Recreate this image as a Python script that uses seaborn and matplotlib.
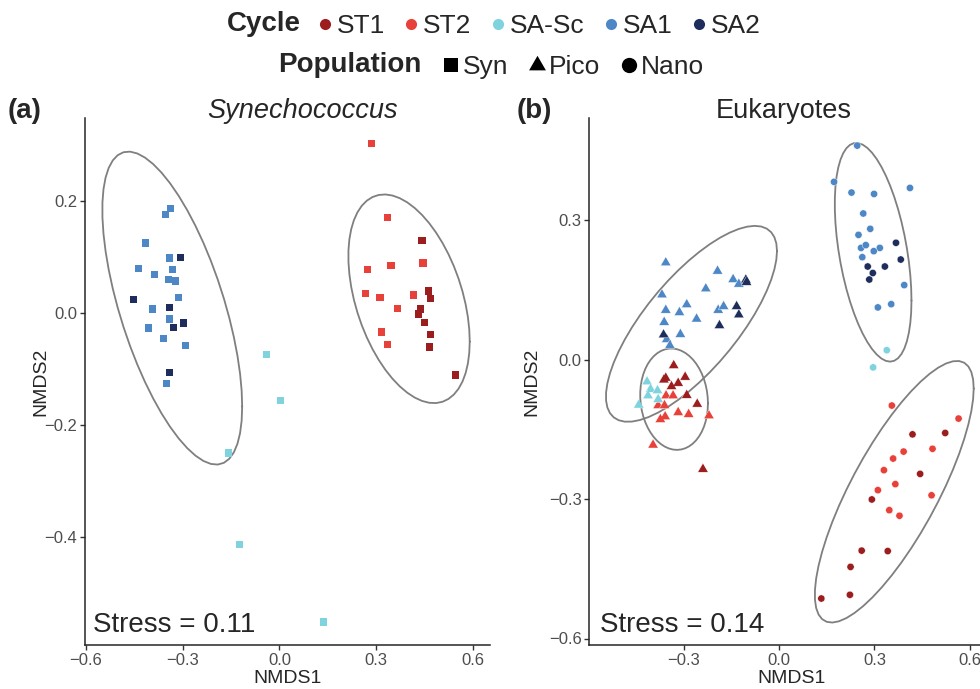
import numpy as np
import pandas as pd
import matplotlib
matplotlib.use("Agg")
import matplotlib.pyplot as plt
import seaborn as sns
from matplotlib.lines import Line2D

# ---------------- data ----------------
cycles = ["ST1", "ST2", "SA-Sc", "SA1", "SA2"]
cycle_colors = ["#9B1D1D", "#E8413A", "#7ED3DE", "#4E87C6", "#1E2D5B"]
cycle_region = {"ST1": "ST", "ST2": "ST", "SA-Sc": "SA", "SA1": "SA", "SA2": "SA"}
populations = ["Syn", "Pico", "Nano"]

# Synechococcus (panel a)
syn_cycle = (["SA1"] * 16 + ["SA2"] * 6 + ["SA-Sc"] * 5 + ["ST2"] * 11 + ["ST1"] * 9)
syn_x = [-0.337, -0.352, -0.414, -0.340, -0.436, -0.330, -0.386, -0.343, -0.321, -0.312,
         -0.392, -0.340, -0.405, -0.358, -0.290, -0.349,
         -0.306, -0.451, -0.340, -0.296, -0.327, -0.340,
         -0.039, 0.004, -0.157, -0.123, 0.137,
         0.286, 0.335, 0.273, 0.345, 0.444, 0.267, 0.311, 0.416, 0.366, 0.316, 0.335,
         0.441, 0.462, 0.468, 0.437, 0.431, 0.450, 0.468, 0.465, 0.546]
syn_y = [0.187, 0.176, 0.125, 0.098, 0.080, 0.078, 0.069, 0.060, 0.057, 0.028,
         0.007, -0.011, -0.027, -0.045, -0.058, -0.126,
         0.099, 0.024, 0.010, -0.018, -0.026, -0.106,
         -0.074, -0.156, -0.250, -0.413, -0.552,
         0.303, 0.171, 0.078, 0.085, 0.089, 0.035, 0.028, 0.032, 0.008, -0.034, -0.056,
         0.130, 0.039, 0.026, 0.007, -0.002, -0.017, -0.038, -0.061, -0.111]

# Eukaryotes, picoplankton (panel b, triangles)
pico_cycle = (["SA1"] * 16 + ["SA2"] * 6 + ["ST1"] * 9 + ["ST2"] * 10 + ["SA-Sc"] * 6)
pico_x = [-0.357, -0.194, -0.145, -0.127, -0.231, -0.369, -0.291, -0.357, -0.314, -0.192,
          -0.175, -0.260, -0.362, -0.311, -0.354, -0.344,
          -0.105, -0.103, -0.134, -0.127, -0.188, -0.364,
          -0.332, -0.357, -0.363, -0.296, -0.318, -0.339, -0.291, -0.258, -0.240,
          -0.356, -0.334, -0.381, -0.361, -0.318, -0.285, -0.221, -0.359, -0.374, -0.397,
          -0.416, -0.405, -0.383, -0.413, -0.381, -0.442]
pico_y = [0.208, 0.190, 0.172, 0.162, 0.152, 0.139, 0.118, 0.106, 0.101, 0.106,
          0.114, 0.087, 0.080, 0.054, 0.043, 0.030,
          0.171, 0.166, 0.114, 0.096, 0.073, 0.053,
          -0.013, -0.040, -0.044, -0.038, -0.051, -0.058, -0.077, -0.096, -0.236,
          -0.078, -0.078, -0.099, -0.099, -0.114, -0.118, -0.121, -0.123, -0.129, -0.184,
          -0.048, -0.064, -0.067, -0.078, -0.086, -0.098]

# Eukaryotes, nanoplankton (panel b, circles)
nano_cycle = (["SA1"] * 16 + ["SA2"] * 6 + ["SA-Sc"] * 2 + ["ST2"] * 11 + ["ST1"] * 9)
nano_x = [0.246, 0.173, 0.228, 0.299, 0.412, 0.265, 0.287, 0.250, 0.258, 0.273,
          0.317, 0.298, 0.262, 0.394, 0.311, 0.353,
          0.368, 0.383, 0.279, 0.333, 0.295, 0.284,
          0.339, 0.296,
          0.355, 0.565, 0.392, 0.483, 0.359, 0.330, 0.366, 0.311, 0.480, 0.347, 0.379,
          0.420, 0.523, 0.444, 0.292, 0.260, 0.342, 0.225, 0.223, 0.133]
nano_y = [0.460, 0.382, 0.359, 0.356, 0.369, 0.314, 0.281, 0.268, 0.240, 0.246,
          0.240, 0.233, 0.220, 0.160, 0.112, 0.119,
          0.251, 0.215, 0.200, 0.200, 0.186, 0.172,
          0.020, -0.017,
          -0.099, -0.127, -0.198, -0.192, -0.213, -0.238, -0.268, -0.281, -0.292, -0.324, -0.336,
          -0.161, -0.158, -0.246, -0.301, -0.411, -0.412, -0.446, -0.506, -0.514]

stress_a = 0.11
stress_b = 0.14
xticks = [-0.6, -0.3, 0.0, 0.3, 0.6]
yticks_a = [-0.4, -0.2, 0.0, 0.2]
yticks_b = [-0.6, -0.3, 0.0, 0.3]

# ---------------- helpers ----------------
def cov_trob(X, nu=5, maxit=25, tol=0.01):
    """Port of MASS::cov.trob (multivariate t robust covariance)."""
    n, p = X.shape
    wt = np.ones(n)
    loc = X.mean(axis=0)
    w = np.sqrt(wt)
    Xc = X - loc
    for _ in range(maxit):
        w0 = w
        Xc = X - loc
        _, d, Vt = np.linalg.svd(np.sqrt(w / w.sum())[:, None] * Xc, full_matrices=False)
        wX = Xc @ Vt.T @ np.diag(1.0 / d)
        Q = (wX ** 2).sum(axis=1)
        w = wt * (nu + p) / (nu + Q)
        loc = (w[:, None] * X).sum(axis=0) / w.sum()
        if np.all(np.abs(w - w0) < tol):
            break
    sw = np.sqrt(w)[:, None] * Xc
    cov = sw.T @ sw / wt.sum()
    return loc, cov


def stat_ellipse(x, y, level=0.95, segments=51):
    X = np.column_stack([x, y])
    center, shape = cov_trob(X)
    d = len(x) - 1
    radius = np.sqrt(d * ((1 - level) ** (-2.0 / d) - 1))  # sqrt(2*qf(level,2,d))
    R = np.linalg.cholesky(shape).T
    ang = np.linspace(0, 2 * np.pi, segments + 1)
    circ = np.column_stack([np.cos(ang), np.sin(ang)])
    ell = center + radius * circ @ R
    return ell[:, 0], ell[:, 1]


def make_df(cyc, x, y, pop):
    df = pd.DataFrame({"Cycle": cyc, "NMDS1": x, "NMDS2": y})
    df["Region"] = df["Cycle"].map(cycle_region)
    df["Population"] = pop
    return df

syn_df = make_df(syn_cycle, syn_x, syn_y, "Syn")
pico_df = make_df(pico_cycle, pico_x, pico_y, "Pico")
nano_df = make_df(nano_cycle, nano_x, nano_y, "Nano")

palette = dict(zip(cycles, cycle_colors))
tri = [(0, 0.577), (-0.5, -0.289), (0.5, -0.289)]

# ---------------- style ----------------
sns.set_style("ticks")
plt.rcParams["font.family"] = ["Liberation Sans", "DejaVu Sans"]
plt.rcParams["axes.linewidth"] = 1.1
plt.rcParams["xtick.color"] = "#333333"
plt.rcParams["ytick.color"] = "#333333"
plt.rcParams["xtick.labelcolor"] = "#4D4D4D"
plt.rcParams["ytick.labelcolor"] = "#4D4D4D"

W, H = 980, 689
fig = plt.figure(figsize=(W / 100, H / 100), dpi=100)

def ax_rect(l, r, t, b):
    return [l / W, 1 - b / H, (r - l) / W, (b - t) / H]

ax_a = fig.add_axes(ax_rect(85, 490, 118, 645))
ax_b = fig.add_axes(ax_rect(589.4, 994.4, 118, 645))

ell_kw = dict(color="#7F7F7F", lw=1.3, zorder=3)

# panel a
sns.scatterplot(data=syn_df, x="NMDS1", y="NMDS2", hue="Cycle", palette=palette,
                marker="s", s=28, linewidth=0, legend=False, ax=ax_a, zorder=4)
for reg in ["SA", "ST"]:
    sub = syn_df[syn_df["Region"] == reg]
    ex, ey = stat_ellipse(sub["NMDS1"].values, sub["NMDS2"].values)
    ax_a.plot(ex, ey, **ell_kw)

# panel b
sns.scatterplot(data=pico_df, x="NMDS1", y="NMDS2", hue="Cycle", palette=palette,
                marker=tri, s=72, linewidth=0.3, edgecolor="white", legend=False, ax=ax_b, zorder=4)
sns.scatterplot(data=nano_df, x="NMDS1", y="NMDS2", hue="Cycle", palette=palette,
                marker="o", s=27, linewidth=0.3, edgecolor="white", legend=False, ax=ax_b, zorder=4)
for df in [pico_df, nano_df]:
    for reg in ["SA", "ST"]:
        sub = df[df["Region"] == reg]
        ex, ey = stat_ellipse(sub["NMDS1"].values, sub["NMDS2"].values)
        ax_b.plot(ex, ey, **ell_kw)

# axes ticks, limits and cosmetics
for ax, yt, lx in [(ax_a, yticks_a, 49), (ax_b, yticks_b, 540)]:
    ax.set_xticks(xticks)
    ax.set_xticklabels([f"{v:.1f}".replace("-", "\u2212") for v in xticks])
    ax.set_yticks(yt)
    ax.set_yticklabels([f"{v:.1f}".replace("-", "\u2212") for v in yt])
    ax.tick_params(direction="out", length=3.5, width=1.0, labelsize=12, pad=2)
    ax.set_xlabel("NMDS1", fontsize=14, labelpad=1.5)
    ax.set_ylabel("NMDS2", fontsize=14)
    l = ax.get_position().x0 * W
    ax.yaxis.set_label_coords((lx - l) / 405.0, 0.5)
    for s in ["top", "right"]:
        ax.spines[s].set_visible(False)

ax_a.set_xlim(-0.6019, -0.6019 + 405 / 323.0)
ax_a.set_ylim((313 - 645) / 560.0, (313 - 118) / 560.0)
ax_b.set_xlim(-0.597, -0.597 + 405 / 317.7)
ax_b.set_ylim((359.5 - 645) / 465.0, (359.5 - 118) / 465.0)

ax_a.text(0.02, 0.014, f"Stress = {stress_a:.2f}", transform=ax_a.transAxes,
          fontsize=20, ha="left", va="bottom")
ax_b.text(0.026, 0.014, f"Stress = {stress_b:.2f}", transform=ax_b.transAxes,
          fontsize=20, ha="left", va="bottom")

# titles and panel tags
fig.text(303 / W, 1 - 111 / H, "Synechococcus", fontsize=19.5, style="italic",
         ha="center", va="center")
fig.text(784 / W, 1 - 111 / H, "Eukaryotes", fontsize=19.5, ha="center", va="center")
fig.text(8 / W, 1 - 111 / H, "(a)", fontsize=20, fontweight="bold", ha="left", va="center")
fig.text(517 / W, 1 - 111 / H, "(b)", fontsize=20, fontweight="bold", ha="left", va="center")

# legends
fig.text(301 / W, 1 - 24 / H, "Cycle", fontsize=20, fontweight="bold", ha="right", va="center")
cyc_handles = [Line2D([], [], ls="none", marker="o", ms=8, color=c, mew=0) for c in cycle_colors]
fig.legend(cyc_handles, cycles, loc="center left", bbox_to_anchor=(318 / W, 1 - 26 / H),
           ncol=5, frameon=False, fontsize=19, handlelength=0.5, handletextpad=0.2,
           columnspacing=0.75, borderpad=0, borderaxespad=0)

fig.text(421 / W, 1 - 65 / H, "Population", fontsize=20, fontweight="bold", ha="right", va="center")
pop_handles = [Line2D([], [], ls="none", marker="s", ms=10, color="black", mew=0),
               Line2D([], [], ls="none", marker=tri, ms=14, color="black", mew=0),
               Line2D([], [], ls="none", marker="o", ms=11, color="black", mew=0)]
fig.legend(pop_handles, populations, loc="center left", bbox_to_anchor=(444 / W, 1 - 67 / H),
           ncol=3, frameon=False, fontsize=19, handlelength=0.5, handletextpad=0.2,
           columnspacing=0.85, borderpad=0, borderaxespad=0)

fig.savefig("out.png", dpi=100)
